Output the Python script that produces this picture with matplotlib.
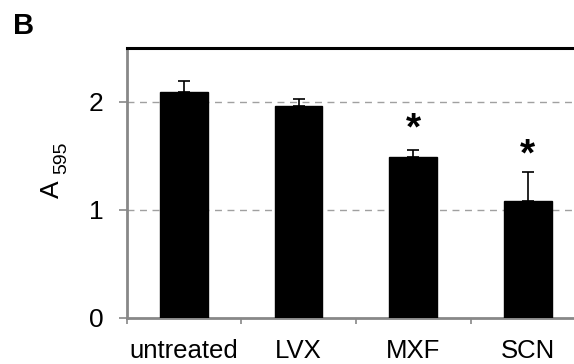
import matplotlib
matplotlib.use("Agg")
import matplotlib.pyplot as plt
import numpy as np

plt.rcParams['font.family'] = ['Liberation Sans', 'DejaVu Sans']

categories = ["untreated", "LVX", "MXF", "SCN"]
values = [2.09, 1.96, 1.485, 1.085]
errors = [0.10, 0.065, 0.065, 0.27]
star_levels = [None, None, 1.745, 1.505]
y_ticks = [0, 1, 2]

W, H = 574, 364
fig = plt.figure(figsize=(W / 100, H / 100), dpi=100)
ax = fig.add_axes([126.5 / W, 1 - 317.7 / H, 458.8 / W, 269.7 / H])

x = np.arange(len(categories)) + 0.5
ax.bar(x, values, width=0.415, color='black', edgecolor='black', zorder=3)
ax.errorbar(x, values, yerr=[np.zeros(len(values)), errors], fmt='none',
            ecolor='black', elinewidth=1.2, capsize=4.5, capthick=1.2, zorder=4)
for xi, s in zip(x, star_levels):
    if s is not None:
        ax.text(xi, s, '*', ha='center', va='center', fontsize=28,
                fontweight='bold', zorder=5)

ax.set_ylim(0, 2.5)
ax.set_xlim(0, len(categories))
ax.set_yticks(y_ticks)
ax.set_yticklabels([str(t) for t in y_ticks], fontsize=19)
for t in [1, 2]:
    ax.axhline(t, color='#a0a0a0', lw=1.0, ls=(0, (5, 4)), zorder=1)
ax.set_xticks(np.arange(len(categories) + 1))
ax.set_xticklabels([])
ax.set_xticks(x, minor=True)
ax.set_xticklabels(categories, minor=True, fontsize=18.5)
ax.tick_params(axis='x', which='major', direction='out', length=4, width=1.2, color='#888888')
ax.tick_params(axis='x', which='minor', length=0, pad=15)
ax.tick_params(axis='y', direction='out', length=5.5, width=1.2, color='#888888', pad=11)

for side in ['left', 'bottom']:
    ax.spines[side].set_color('#888888')
    ax.spines[side].set_linewidth(2)
ax.spines['top'].set_color('black')
ax.spines['top'].set_linewidth(2.2)
ax.spines['right'].set_visible(False)

# y-axis label "A 595" (595 as subscript)
fig.text(59 / W, 1 - 198 / H, 'A', fontsize=19, rotation=90,
         rotation_mode='anchor', ha='left', va='baseline')
fig.text(66 / W, 1 - 174 / H, '595', fontsize=14, rotation=90,
         rotation_mode='anchor', ha='left', va='baseline')

fig.text(13 / W, 1 - 34 / H, 'B', fontsize=21, fontweight='bold',
         ha='left', va='baseline')

fig.savefig('out.png', dpi=100)
